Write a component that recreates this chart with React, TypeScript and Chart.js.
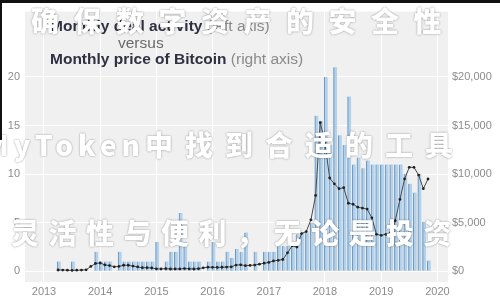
import React, { useEffect, useRef } from "react";
import { Chart, registerables } from "chart.js";

Chart.register(...registerables);

// ---- data (monthly, starting January 2013) ----
const firstYear = 2013;
const yearTicks = [2013, 2014, 2015, 2016, 2017, 2018, 2019, 2020];
const leftTicks = [0, 5, 10, 15, 20];
const rightTicks = [0, 5000, 10000, 15000, 20000];

// Monthly deal activity (left axis)
const deals2013 = [0, 0, 0, 1, 0, 0, 1, 0, 0, 0, 0, 2];
const deals2014 = [1, 1, 1, 0, 2, 1, 1, 1, 1, 1, 1, 1];
const deals2015 = [3, 0, 1, 2, 2, 6, 3, 1, 1, 1, 0, 1];
const deals2016 = [3, 1, 1, 2, 1.4, 2.3, 2, 4, 0, 2, 0, 2];
const deals2017 = [2, 2, 2.6, 2.6, 2.6, 2.6, 3.8, 4, 4, 5, 16, 15.5];
const deals2018 = [20, 13, 21, 14, 13, 18, 11, 11.7, 10.6, 11.4, 11, 11];
const deals2019 = [11, 11, 11, 11, 11, 10, 9, 8.1, 10, 5.1, 1.1, 0];

// Monthly price of Bitcoin in USD (right axis)
const btc2013 = [null, null, null, 130, 120, 110, 90, 110, 125, 145, 500, 800];
const btc2014 = [850, 650, 590, 460, 500, 620, 620, 530, 450, 365, 370, 340];
const btc2015 = [250, 235, 270, 235, 237, 237, 280, 255, 235, 265, 350, 420];
const btc2016 = [410, 400, 415, 435, 460, 640, 660, 580, 605, 640, 730, 830];
const btc2017 = [910, 1060, 1130, 1210, 1900, 2630, 2500, 3880, 4090, 5300, 7800, 15300];
const btc2018 = [13200, 9600, 9000, 8500, 8600, 7000, 6900, 6600, 6500, 6400, 5500, 3800];
const btc2019 = [3700, 3800, 3950, 5200, 7400, 9500, 10700, 10700, 9900, 8500, 9500, null];

const deals = [
  ...deals2013, ...deals2014, ...deals2015, ...deals2016,
  ...deals2017, ...deals2018, ...deals2019,
];
const btcPrice = [
  ...btc2013, ...btc2014, ...btc2015, ...btc2016,
  ...btc2017, ...btc2018, ...btc2019,
];

const monthPos = (i: number) => firstYear + i / 12;

const panelPlugin = {
  id: "panelBg",
  beforeDraw(chart: any) {
    const { ctx, chartArea } = chart;
    ctx.save();
    ctx.fillStyle = "#f0f0f0";
    ctx.fillRect(chartArea.left, chartArea.top, chartArea.right - chartArea.left, chartArea.bottom - chartArea.top);
    ctx.restore();
  },
};

export default function App() {
  const ref = useRef<HTMLCanvasElement | null>(null);

  useEffect(() => {
    if (!ref.current) return;
    const barData = deals
      .map((v, i) => ({ x: monthPos(i) + 0.017, y: v }))
      .filter((p) => p.y > 0);
    const lineData = btcPrice
      .map((v, i) => ({ x: monthPos(i), y: v }))
      .filter((p) => p.y !== null);

    const tickFont = { family: "'Liberation Sans', Arial, sans-serif", size: 11 };
    const tickColor = "#8c8c8c";

    const chart = new Chart(ref.current, {
      type: "bar",
      data: {
        datasets: [
          {
            type: "line",
            label: "Monthly price of Bitcoin",
            data: lineData as any,
            yAxisID: "yr",
            borderColor: "#4a4a4a",
            borderWidth: 1,
            pointRadius: 1.4,
            pointBackgroundColor: "#222",
            pointBorderWidth: 0,
            tension: 0,
            order: 0,
          } as any,
          {
            type: "bar",
            label: "Monthly deal activity",
            data: barData as any,
            yAxisID: "y",
            backgroundColor: "#b3d1ea",
            borderColor: "#6f9bc4",
            borderWidth: { left: 1.2, right: 0, top: 0, bottom: 0 },
            borderSkipped: false,
            barThickness: 3.6,
            order: 1,
          } as any,
        ],
      },
      options: {
        animation: false,
        responsive: true,
        maintainAspectRatio: false,
        layout: { padding: { top: 5, bottom: 0, left: 0, right: 0 } },
        plugins: { legend: { display: false }, tooltip: { enabled: false }, title: { display: false } },
        scales: {
          x: {
            type: "linear",
            offset: false,
            min: 2012.662,
            max: 2020.189,
            afterBuildTicks: (s: any) => {
              s.ticks = yearTicks.map((v) => ({ value: v }));
            },
            afterFit: (s: any) => {
              s.height = 18;
            },
            ticks: {
              font: tickFont,
              color: tickColor,
              padding: 3,
              maxRotation: 0,
              callback: (v: any) => String(v),
            },
            grid: { color: "#ffffff", lineWidth: 1, drawTicks: false, offset: false },
            border: { display: false },
          },
          y: {
            type: "linear",
            position: "left",
            min: -1.105,
            max: 26.73,
            afterBuildTicks: (s: any) => {
              s.ticks = leftTicks.map((v) => ({ value: v }));
            },
            afterFit: (s: any) => {
              s.width = 25;
            },
            ticks: { font: tickFont, color: tickColor, padding: 5 },
            grid: { color: "#ffffff", lineWidth: 1, drawTicks: false },
            border: { display: false },
          },
          yr: {
            type: "linear",
            position: "right",
            min: -1105,
            max: 26730,
            afterBuildTicks: (s: any) => {
              s.ticks = rightTicks.map((v) => ({ value: v }));
            },
            afterFit: (s: any) => {
              s.width = 52;
            },
            ticks: {
              font: tickFont,
              color: tickColor,
              padding: 4,
              callback: (v: any) => "$" + Number(v).toLocaleString("en-US"),
            },
            grid: { display: false, drawTicks: false },
            border: { display: false },
          },
        },
      },
      plugins: [panelPlugin],
    });
    return () => chart.destroy();
  }, []);

  const titleFont = "'Liberation Sans', Arial, Helvetica, sans-serif";
  const wm: React.CSSProperties = {
    position: "absolute",
    whiteSpace: "nowrap",
    color: "#ffffff",
    fontFamily: "'Noto Sans CJK SC', sans-serif",
    fontWeight: 900,
    fontSize: 28,
    lineHeight: "32px",
    textShadow: "0 0 2px rgba(0,0,0,0.45)",
    pointerEvents: "none",
  };

  return (
    <div style={{ position: "fixed", left: 0, top: 0, width: 500, height: 300, background: "#fff", overflow: "hidden" }}>
      <canvas ref={ref} width={500} height={300} style={{ position: "absolute", left: 0, top: 0 }} />
      <div style={{ position: "absolute", left: 50, top: 17, fontFamily: titleFont, fontSize: 15.5, lineHeight: "17px", whiteSpace: "nowrap" }}>
        <span style={{ fontWeight: 700, color: "#2f3142" }}>Monthly deal activity</span>{" "}
        <span style={{ color: "#8a8a8a" }}>(left axis)</span>
      </div>
      <div style={{ position: "absolute", left: 118, top: 34, fontFamily: titleFont, fontSize: 15.5, lineHeight: "17px", color: "#6a6a6a" }}>
        versus
      </div>
      <div style={{ position: "absolute", left: 50, top: 50, fontFamily: titleFont, fontSize: 15.5, lineHeight: "17px", whiteSpace: "nowrap" }}>
        <span style={{ fontWeight: 700, color: "#2f3142" }}>Monthly price of Bitcoin</span>{" "}
        <span style={{ color: "#8a8a8a" }}>(right axis)</span>
      </div>
      <div style={{ ...wm, left: 31, top: 4, letterSpacing: 14.5 }}>确保数字资产的安全性</div>
      <div style={{ ...wm, left: -16, top: 128 }}>
        <span style={{ letterSpacing: 5 }}>MyToken</span>
        <span style={{ letterSpacing: 12 }}>中找到合适的工具</span>
      </div>
      <div style={{ ...wm, left: 11, top: 216, letterSpacing: 9.5 }}>灵活性与便利，无论是投资</div>
      <div style={{ position: "absolute", left: 0, top: 0, width: 500, height: 3, background: "#111" }} />
      <div style={{ position: "absolute", left: 0, top: 0, width: 2, height: 140, background: "#111" }} />
    </div>
  );
}
